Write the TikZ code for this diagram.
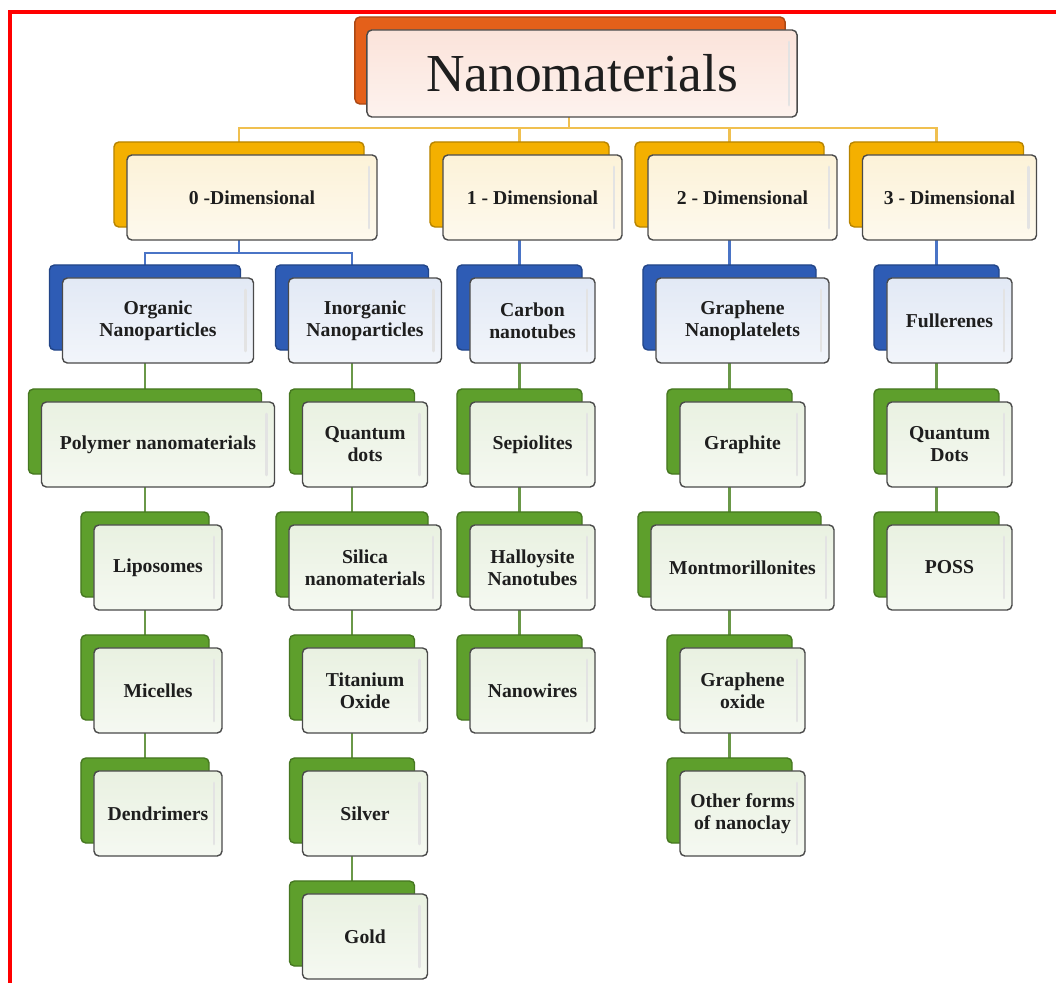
\documentclass[tikz,border=0pt]{standalone}
\usepackage{fontspec}
\setmainfont{Liberation Serif}
\usepackage{xcolor}
\usetikzlibrary{shadows,backgrounds}

\definecolor{orangeback}{HTML}{E4601A}
\definecolor{dimback}{HTML}{F4B000}
\definecolor{blueback}{HTML}{2E5CB5}
\definecolor{greenback}{HTML}{5E9F2C}
\definecolor{pinkfront}{HTML}{FBE3DA}
\definecolor{creamfront}{HTML}{FCF2D8}
\definecolor{bluefront}{HTML}{E2E9F5}
\definecolor{greenfront}{HTML}{E9F1E1}
\definecolor{toplink}{HTML}{F0C050}
\definecolor{bluelink}{HTML}{4A74C6}
\definecolor{greenlink}{HTML}{6A9848}
\definecolor{boxline}{HTML}{4A4A4A}
\definecolor{labeltext}{HTML}{1E1E1E}

\begin{document}
\begin{tikzpicture}[x=0.025cm,y=-0.025cm,
  box/.style={draw=boxline,line width=1pt,rounded corners=3.5pt,
    minimum height=2.125cm,inner sep=2pt,align=center,text=labeltext,
    font=\fontsize{14}{15.6}\selectfont\bfseries,
    path picture={\draw[gray!22,line width=2pt,line cap=round]
      ([xshift=-0.2cm,yshift=-0.3cm]path picture bounding box.north east) --
      ([xshift=-0.2cm,yshift=0.3cm]path picture bounding box.south east);}},
  root/.style={box,minimum height=2.175cm,top color=pinkfront,bottom color=pinkfront!45!white,
    font=\fontsize{38}{40}\selectfont,
    copy shadow={shadow xshift=-0.3cm,shadow yshift=0.325cm,fill=orangeback,draw=orangeback!75!black}},
  dim/.style={box,top color=creamfront,bottom color=creamfront!45!white,
    copy shadow={shadow xshift=-0.325cm,shadow yshift=0.325cm,fill=dimback,draw=dimback!75!black}},
  group/.style={box,top color=bluefront,bottom color=bluefront!45!white,
    copy shadow={shadow xshift=-0.325cm,shadow yshift=0.325cm,fill=blueback,draw=blueback!75!black}},
  leaf/.style={box,minimum width=3.125cm,top color=greenfront,bottom color=greenfront!45!white,
    copy shadow={shadow xshift=-0.325cm,shadow yshift=0.325cm,fill=greenback,draw=greenback!75!black}}]
  \useasboundingbox (0,0) rectangle (1056,983);
  \draw[red,line width=0.1cm] (10,983) -- (10,12) -- (1056,12);

  \node[root,minimum width=10.75cm] (nano) at (582,73.5) {Nanomaterials};

  \node[dim,minimum width=6.25cm] (d0) at (252,197.5) {0 -Dimensional};
  \node[dim,minimum width=4.475cm] (d1) at (532.5,197.5) {1 - Dimensional};
  \node[dim,minimum width=4.725cm] (d2) at (742.5,197.5) {2 - Dimensional};
  \node[dim,minimum width=4.35cm] (d3) at (949.5,197.5) {3 - Dimensional};

  \node[group,minimum width=4.775cm] (org) at (158,320.5) {Organic\\Nanoparticles};
  \node[group,minimum width=3.825cm] (inorg) at (365,320.5) {Inorganic\\Nanoparticles};
  \node[group,minimum width=3.125cm] (cnt) at (532.5,320.5) {Carbon\\nanotubes};
  \node[group,minimum width=4.325cm] (gnp) at (742.5,320.5) {Graphene\\Nanoplatelets};
  \node[group,minimum width=3.125cm] (full) at (949.5,320.5) {Fullerenes};

  \node[leaf,minimum width=5.825cm] (poly) at (158,444.5) {Polymer nanomaterials};
  \node[leaf] (qdots) at (365,444.5) {Quantum\\dots};
  \node[leaf] (sep) at (532.5,444.5) {Sepiolites};
  \node[leaf] (graphite) at (742.5,444.5) {Graphite};
  \node[leaf] (qdots3) at (949.5,444.5) {Quantum\\Dots};

  \node[leaf,minimum width=3.2cm] (lipo) at (158,567.5) {Liposomes};
  \node[leaf,minimum width=3.8cm] (silica) at (365,567.5) {Silica\\nanomaterials};
  \node[leaf] (hallo) at (532.5,567.5) {Halloysite\\Nanotubes};
  \node[leaf,minimum width=4.575cm] (mont) at (742.5,567.5) {Montmorillonites};
  \node[leaf] (poss) at (949.5,567.5) {POSS};

  \node[leaf,minimum width=3.2cm] (mic) at (158,690.5) {Micelles};
  \node[leaf] (tio) at (365,690.5) {Titanium\\Oxide};
  \node[leaf] (wires) at (532.5,690.5) {Nanowires};
  \node[leaf] (go) at (742.5,690.5) {Graphene\\oxide};

  \node[leaf,minimum width=3.2cm] (dend) at (158,813.5) {Dendrimers};
  \node[leaf] (silver) at (365,813.5) {Silver};
  \node[leaf] (clay) at (742.5,813.5) {Other forms\\of nanoclay};

  \node[leaf] (gold) at (365,936.5) {Gold};

  \foreach \n in {nano,d0,d1,d2,d3,org,inorg,cnt,gnp,full,poly,qdots,sep,graphite,
                  qdots3,lipo,silica,hallo,mont,poss,mic,tio,wires,go,dend,silver,clay,gold}
    \coordinate (\n-b) at ([xshift=-0.325cm]\n.center);
  \coordinate (tbus) at (0,128);
  \coordinate (bbus) at (0,253);

  \begin{scope}[on background layer={line width=1.6pt}]
    \foreach \d in {d0,d1,d2,d3}
      \draw[toplink] (nano-b) -- (nano-b |- tbus) -| (\d-b);
    \draw[bluelink] (d0-b) -- (d0-b |- bbus) -| (org-b);
    \draw[bluelink] (d0-b |- bbus) -| (inorg-b);
    \draw[bluelink] (d1-b) -- (cnt-b);
    \draw[bluelink] (d2-b) -- (gnp-b);
    \draw[bluelink] (d3-b) -- (full-b);
    \draw[greenlink] (org-b) -- (poly-b) -- (lipo-b) -- (mic-b) -- (dend-b);
    \draw[greenlink] (inorg-b) -- (qdots-b) -- (silica-b) -- (tio-b) -- (silver-b) -- (gold-b);
    \draw[greenlink] (cnt-b) -- (sep-b) -- (hallo-b) -- (wires-b);
    \draw[greenlink] (gnp-b) -- (graphite-b) -- (mont-b) -- (go-b) -- (clay-b);
    \draw[greenlink] (full-b) -- (qdots3-b) -- (poss-b);
  \end{scope}
\end{tikzpicture}
\end{document}
